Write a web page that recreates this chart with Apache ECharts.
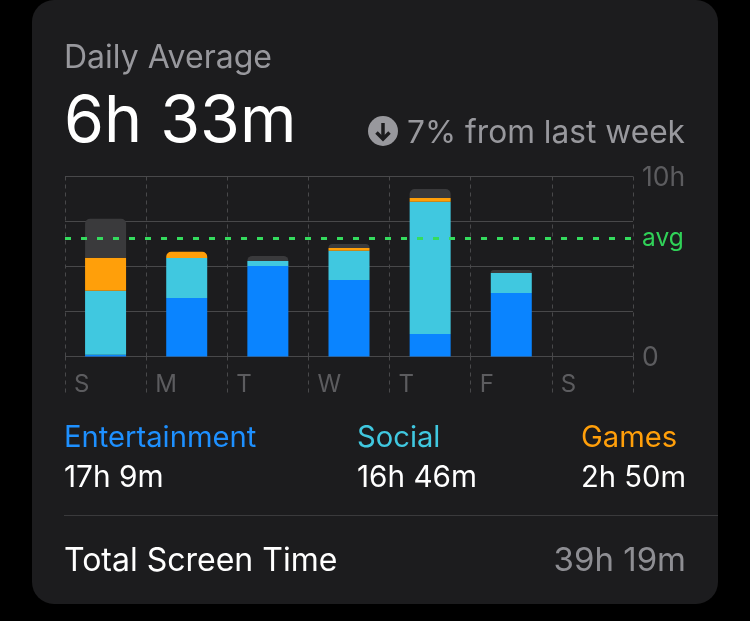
<!DOCTYPE html>
<html><head><meta charset="utf-8">
<style>html,body{margin:0;padding:0;background:#000;}#c{width:750px;height:621px;}</style>
<script src="https://cdn.jsdelivr.net/npm/echarts@6/dist/echarts.min.js"></script>
</head><body><div id="c"></div>
<script>
const days = ['S','M','T','W','T','F','S'];
const entertainment = [0.1, 3.25, 5.03, 4.25, 1.25, 3.53, 0];
const social = [3.55, 2.22, 0.28, 1.63, 7.35, 1.11, 0];
const games = [1.83, 0.35, 0, 0.15, 0.2, 0, 0];
const other = [2.17, 0, 0.28, 0.22, 0.5, 0.16, 0];
const avgHours = 6.55;
const font = 'Inter';
const stacks = [
  ['Entertainment', entertainment, '#0a84ff'],
  ['Social', social, '#40c8e0'],
  ['Games', games, '#ff9f0a'],
  ['Other', other, '#3a3a3c']
];
function isTop(si, i){
  for (let k = si + 1; k < stacks.length; k++) if (stacks[k][1][i] > 0) return false;
  return true;
}
const series = stacks.map(([name, vals, color], si) => ({
  name, type: 'bar', stack: 'day', barWidth: 41, xAxisIndex: 0, yAxisIndex: 0,
  itemStyle: {color},
  data: vals.map((v, i) => ({value: v, itemStyle: {borderRadius: isTop(si, i) ? [5,5,0,0] : 0}}))
}));
series.push({
  name: 'avg', type: 'line', xAxisIndex: 2, yAxisIndex: 0, z: 10, silent: true,
  symbol: 'none', showSymbol: false,
  lineStyle: {color: '#34dc5e', type: [6,10], width: 3, cap: 'butt'},
  endLabel: {show: true, formatter: 'avg', color: '#30d158', fontFamily: font, fontSize: 24.5, distance: 9},
  data: [[0, avgHours], [days.length, avgHours]]
});
function txt(x, y, text, fontSize, fill, align, weight){
  return {type: 'text', x, y, silent: true, style: {text, fontSize, fill, fontFamily: font, fontWeight: weight || 400, align: align || 'left', verticalAlign: 'middle'}};
}
const chart = echarts.init(document.getElementById('c'), null, {renderer: 'canvas'});
chart.setOption({
  animation: false,
  backgroundColor: '#000',
  grid: {left: 65, right: 117, top: 176.5, height: 180, containLabel: false},
  xAxis: [
    {type: 'category', data: days, axisLine: {show: false}, axisTick: {show: false}, axisLabel: {show: false}, splitLine: {show: false}},
    {type: 'category', position: 'bottom', boundaryGap: false, data: days.concat(['']),
     axisLine: {show: false},
     axisTick: {show: true, inside: false, length: 40, lineStyle: {color: '#48484a', type: [4,4], width: 1}},
     axisLabel: {show: true, interval: 0, align: 'left', color: '#5c5c5f', fontFamily: font, fontSize: 24, margin: 16, padding: [0,0,0,9]},
     splitLine: {show: true, lineStyle: {color: '#48484a', type: [4,4], width: 1}}},
    {type: 'value', show: false, min: 0, max: days.length, splitLine: {show: false}}
  ],
  yAxis: [{type: 'value', position: 'right', min: 0, max: 10, interval: 2.5,
    axisLine: {show: false}, axisTick: {show: false},
    axisLabel: {fontFamily: font, margin: 9,
      rich: {t: {color: '#5c5c5f', fontFamily: font, fontSize: 26.5, padding: [4,0,0,0]}},
      formatter: v => v === 10 ? '{t|10h}' : v === 0 ? '{t|0}' : ''},
    splitLine: {show: true, lineStyle: {color: '#48484a', width: 1}}}],
  series,
  graphic: {elements: [
    {type: 'rect', z: -10, silent: true, shape: {x: 32, y: 0, width: 686, height: 604, r: 22}, style: {fill: '#1c1c1e'}},
    {type: 'line', silent: true, shape: {x1: 64, y1: 515.5, x2: 718, y2: 515.5}, style: {stroke: '#3a3a3c', lineWidth: 1}},
    txt(64, 58, 'Daily Average', 32, '#98989d'),
    txt(64, 122.5, '6h 33m', 64.5, '#ffffff', 'left', 400),
    {type: 'circle', silent: true, shape: {cx: 383, cy: 131, r: 15}, style: {fill: '#98989d'}},
    {type: 'polyline', silent: true, shape: {points: [[383,123],[383,139]]}, style: {stroke: '#1c1c1e', lineWidth: 3.5, fill: null}},
    {type: 'polyline', silent: true, shape: {points: [[376.5,132.5],[383,139],[389.5,132.5]]}, style: {stroke: '#1c1c1e', lineWidth: 3.5, fill: null}},
    txt(685, 133, '7% from last week', 31.7, '#98989d', 'right'),
    txt(64, 438.5, 'Entertainment', 29.2, '#1e90ff'),
    txt(64, 478, '17h 9m', 29.8, '#ffffff'),
    txt(357, 438.5, 'Social', 29.2, '#40c8e0'),
    txt(357, 478, '16h 46m', 29.7, '#ffffff'),
    txt(581, 438.5, 'Games', 29.2, '#ff9f0a'),
    txt(581, 478, '2h 50m', 29.2, '#ffffff'),
    txt(64, 561.5, 'Total Screen Time', 32, '#ffffff'),
    txt(686, 561.5, '39h 19m', 33, '#8e8e93', 'right')
  ]}
});
</script></body></html>
